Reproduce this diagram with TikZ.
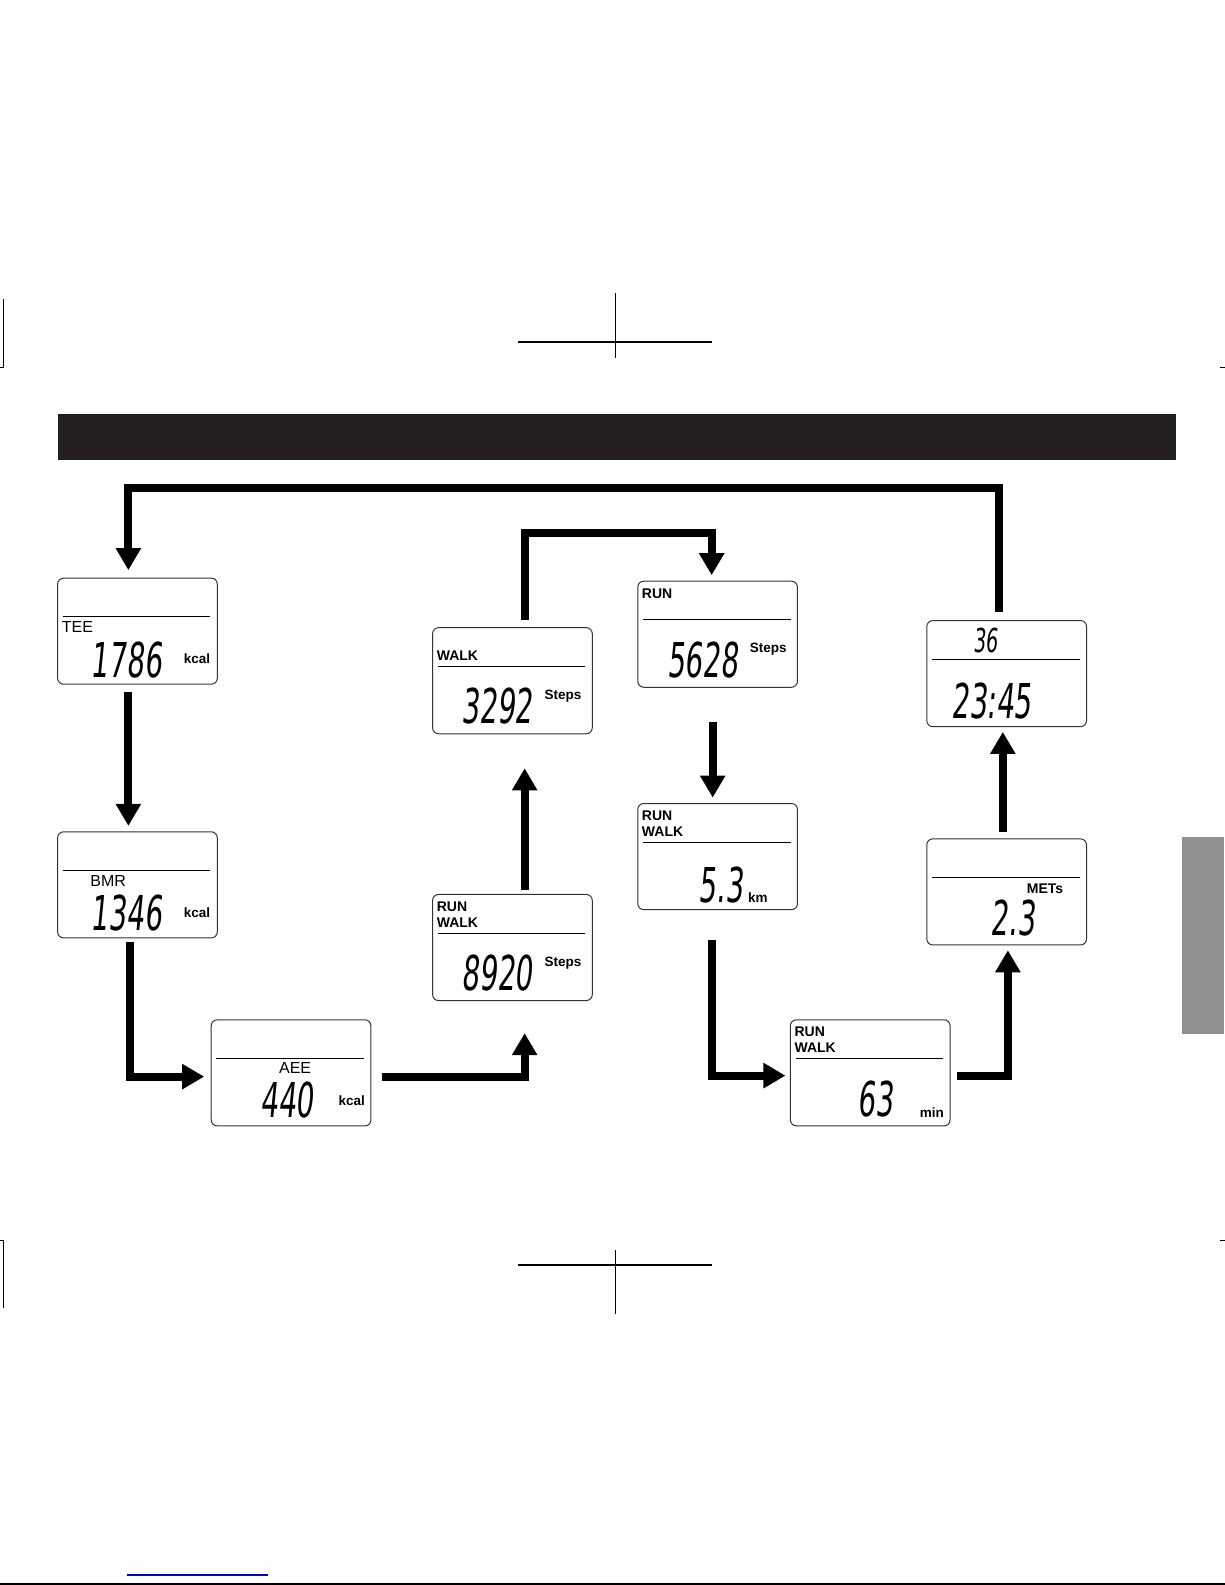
\documentclass[tikz,border=0pt]{standalone}
\usepackage{fontspec}
\setmainfont{Liberation Sans}
\newfontfamily\lcdfont[FakeStretch=0.58,FakeSlant=0.1]{DejaVu Sans}
\usetikzlibrary{arrows.meta,calc}
\definecolor{barblack}{HTML}{231F20}
\definecolor{tabgrey}{HTML}{918F8F}
\definecolor{linkblue}{HTML}{0000CC}
\tikzset{
 lcdbox/.style={draw=black!80, line width=1pt, rounded corners=6pt, inner sep=0pt, outer sep=0pt,
   minimum width=159.7pt, minimum height=106.1pt, anchor=north west},
 sepline/.style={line width=1.1pt},
 flow/.style={line width=8pt, -{Triangle[width=24pt,length=22pt]}},
 lbl/.style={inner sep=0pt, font=\fontsize{16}{16}\selectfont},
 blbl/.style={inner sep=0pt, anchor=west, font=\bfseries\fontsize{14}{14}\selectfont},
 unit/.style={inner sep=0pt, font=\bfseries\fontsize{13.5}{13.5}\selectfont},
 digits/.style={inner sep=0pt, font=\lcdfont\fontsize{48}{48}\selectfont},
 smalldigits/.style={inner sep=0pt, font=\lcdfont\fontsize{33}{33}\selectfont},
 crop/.style={line width=0.8pt},
 cropbar/.style={line width=1.4pt},
}
\newcommand\lcdpanel[3]{%
 \node[lcdbox] (#1) at (#2,#3) {};
 \draw[sepline] ($(#1.north west)+(5,38)$) -- ($(#1.north east)+(-7,38)$);
}
\begin{document}
\begin{tikzpicture}[x=1pt,y=-1pt]
\useasboundingbox (0,0) rectangle (1225,1585);
% page furniture
\fill[barblack] (58,414) rectangle (1176,460);
\fill[tabgrey] (1182,837) rectangle (1224,1034);
\draw[crop] (615,293) -- (615,358);
\draw[cropbar] (518,342) -- (712,342);
\draw[crop] (3,299) -- (3,367) -- (0,367);
\draw[crop] (1220,367) -- (1225,367);
\draw[crop] (615,1250) -- (615,1314);
\draw[cropbar] (518,1265) -- (712,1265);
\draw[crop] (0,1240) -- (3,1240) -- (3,1308);
\draw[crop] (1220,1240) -- (1225,1240);
\draw[linkblue, line width=1.2pt] (127,1575) -- (268,1575);
\draw[line width=1.8pt] (0,1584) -- (1225,1584);

\begin{scope}[scale=1.0107]
% panels
\lcdpanel{tee}{57}{572}
\lcdpanel{bmr}{57}{823}
\lcdpanel{aee}{209}{1009}
\lcdpanel{steps}{428}{885}
\lcdpanel{walk}{428}{621}
\lcdpanel{run}{631}{575}
\lcdpanel{dist}{631}{795}
\lcdpanel{time}{782}{1009}
\lcdpanel{mets}{917}{830}
\lcdpanel{clock}{917}{614}

% texts
\node[lbl, anchor=west] (teel) at (61,620) {TEE};
\node[digits] (teev) at (125,653) {1786};
\node[unit] (teeu) at (195,652) {kcal};

\node[lbl] (bmrl) at (107,872) {BMR};
\node[digits] (bmrv) at (125,903) {1346};
\node[unit] (bmru) at (195,903) {kcal};

\node[lbl] (aeel) at (292,1057) {AEE};
\node[digits] (aeev) at (284,1088) {440};
\node[unit] (aeeu) at (348,1089) {kcal};

\node[blbl] (stepsa) at (432,897) {RUN};
\node[blbl] (stepsb) at (432,913) {WALK};
\node[digits] (stepsv) at (492,963) {8920};
\node[unit] (stepsu) at (557,953) {Steps};

\node[blbl] (walkl) at (432,649) {WALK};
\node[digits] (walkv) at (492,699) {3292};
\node[unit] (walku) at (557,689) {Steps};

\node[blbl] (runl) at (635,587) {RUN};
\node[digits] (runv) at (695,653) {5628};
\node[unit] (runu) at (760,642) {Steps};

\node[blbl] (dista) at (635,807) {RUN};
\node[blbl] (distb) at (635,823) {WALK};
\node[digits] (distv) at (713,876) {5.3};
\node[unit, anchor=west] (distu) at (740,888) {km};

\node[blbl] (timea) at (786,1021) {RUN};
\node[blbl] (timeb) at (786,1037) {WALK};
\node[digits] (timev) at (866,1087) {63};
\node[unit] (timeu) at (922,1101) {min};

\node[unit, font=\bfseries\fontsize{14}{14}\selectfont] (metsl) at (1034,879) {METs};
\node[digits] (metsv) at (1002,908) {2.3};

\node[smalldigits] (clocka) at (975,634) {36};
\node[digits] (clockv) at (981,694) {23:45};

% connectors
\draw[flow] ($(clock.north west)+(71,-9)$) -- ++(0,-122) -| ($(tee.north west)+(70,-8)$);
\draw[flow] ($(tee.south west)+(70,8)$) -- ($(bmr.north west)+(70,-6)$);
\draw[flow] ($(bmr.south west)+(72,4)$) |- ($(aee.north west)+(-7,56)$);
\draw[flow] ($(aee.north east)+(11,56)$) -| ($(steps.south west)+(91,32)$);
\draw[flow] ($(steps.north west)+(91,-5)$) -- ($(walk.south west)+(91,34)$);
\draw[flow] ($(walk.north west)+(91,-8)$) -- ++(0,-86) -| ($(run.north west)+(73,-6)$);
\draw[flow] ($(run.south west)+(74,34)$) -- ($(dist.north west)+(74,-6)$);
\draw[flow] ($(dist.south west)+(73,30)$) |- ($(time.north west)+(-5,55)$);
\draw[flow] ($(time.north east)+(7,55)$) -| ($(mets.south west)+(80,5)$);
\draw[flow] ($(mets.north west)+(75,-7)$) -- ($(clock.south west)+(75,5)$);
\end{scope}
\end{tikzpicture}
\end{document}
